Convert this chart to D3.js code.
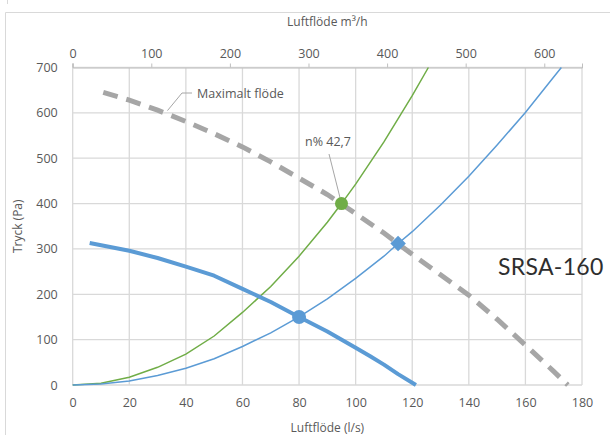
<!DOCTYPE html>
<html>
<head>
<meta charset="utf-8">
<script src="https://cdn.jsdelivr.net/npm/d3@7"></script>
<style>
  html, body { margin: 0; padding: 0; background: #fff; }
  svg { display: block; }
  text { font-family: "Open Sans", "Liberation Sans", sans-serif; }
</style>
</head>
<body>
<svg id="chart" width="610" height="435"></svg>
<script>
// ---- Data ----
const xTicks = [0, 20, 40, 60, 80, 100, 120, 140, 160, 180];
const yTicks = [0, 100, 200, 300, 400, 500, 600, 700];
const topTicks = [0, 100, 200, 300, 400, 500, 600];

// Fan curve (thick blue): airflow l/s, pressure Pa
const fanQ = [6, 20, 30, 40, 50, 60, 70, 80, 90, 100, 105, 110, 115, 121.3];
const fanP = [313, 296, 280, 261, 241, 212, 183, 150, 118, 82, 64, 45, 24, 0];

// System curve green
const greenQ = [0, 10, 20, 30, 40, 50, 60, 70, 80, 90, 95, 100, 110, 120, 125.7];
const greenP = [0, 4, 17, 39, 68, 108, 160, 217, 284, 359, 400, 443, 536, 638, 700];

// System curve blue (thin)
const blueQ = [0, 10, 20, 30, 40, 50, 60, 70, 80, 90, 100, 110, 115, 120, 130, 140, 150, 160, 170, 172.7];
const blueP = [0, 2, 9, 21, 37, 58, 85, 115, 150, 190, 235, 284, 312, 338, 397, 460, 529, 601, 679, 700];

// Maximum flow curve (dashed gray)
const maxQ = [10.8, 20, 30, 40, 50, 60, 70, 80, 90, 100, 110, 120, 130, 140, 150, 160, 170, 175];
const maxP = [645, 628, 606, 581, 554, 525, 492, 456, 420, 378, 335, 288, 243, 198, 145, 88, 30, 0];

// Markers
const greenPoint = [95, 400];
const bluePoint = [80, 150];
const diamondPoint = [115, 312];

const efficiencyLabel = "n% 42,7";
const maxLabel = "Maximalt flöde";
const modelLabel = "SRSA-160";

// ---- Layout ----
const svg = d3.select("#chart");
const pLeft = 72.7, pRight = 582, pTop = 67.5, pBottom = 385;
const x = d3.scaleLinear().domain([0, 180]).range([pLeft, pRight]);
const y = d3.scaleLinear().domain([0, 700]).range([pBottom, pTop]);
const xTop = d3.scaleLinear().domain([0, 180 * 3.6]).range([pLeft, pRight]);

const gridColor = "#d9d9d9";
const textColor = "#595959";

// outer chart frame
svg.append("path")
  .attr("d", "M5.5,440 V12.5 H615")
  .attr("fill", "none").attr("stroke", gridColor).attr("stroke-width", 1);
svg.append("line").attr("x1", 7.5).attr("x2", 7.5).attr("y1", 0).attr("y2", 4)
  .attr("stroke", gridColor);

// grid
const g = svg.append("g");
g.selectAll(".vg").data(xTicks).join("line")
  .attr("x1", d => x(d)).attr("x2", d => x(d))
  .attr("y1", pTop).attr("y2", pBottom)
  .attr("stroke", gridColor).attr("stroke-width", 1.3);
g.selectAll(".hg").data(yTicks).join("line")
  .attr("x1", pLeft).attr("x2", pRight)
  .attr("y1", d => y(d)).attr("y2", d => y(d))
  .attr("stroke", gridColor).attr("stroke-width", 1.3);

// bottom axis labels
const xAxis = d3.axisBottom(x).tickValues(xTicks).tickSize(0).tickPadding(13);
const gx = svg.append("g").attr("transform", `translate(0,${pBottom})`).call(xAxis);
gx.select(".domain").remove();
gx.selectAll("text").attr("fill", textColor).style("font-size", "12.5px")
  .style("font-family", "'Open Sans', sans-serif");

// left axis labels
const yAxis = d3.axisLeft(y).tickValues(yTicks).tickSize(0).tickPadding(15);
const gy = svg.append("g").attr("transform", `translate(${pLeft},0)`).call(yAxis);
gy.select(".domain").remove();
gy.selectAll("text").attr("fill", textColor).style("font-size", "12.5px")
  .style("font-family", "'Open Sans', sans-serif");

// top axis
const topAxis = d3.axisTop(xTop).tickValues(topTicks).tickSize(4).tickPadding(6);
const gt = svg.append("g").attr("transform", `translate(0,${pTop})`).call(topAxis);
gt.select(".domain").attr("stroke", "#bfbfbf");
gt.selectAll("line").attr("stroke", "#bfbfbf");
gt.selectAll("text").attr("fill", textColor).style("font-size", "12.5px")
  .style("font-family", "'Open Sans', sans-serif");
// left axis small tick at top
svg.append("line").attr("x1", pLeft).attr("x2", pLeft).attr("y1", pTop - 4).attr("y2", pTop)
  .attr("stroke", "#bfbfbf");

// axis titles
svg.append("text").attr("x", (pLeft + pRight) / 2).attr("y", 26)
  .attr("text-anchor", "middle").attr("fill", textColor).style("font-size", "12px")
  .text("Luftflöde m³/h");
svg.append("text").attr("x", (pLeft + pRight) / 2).attr("y", 432)
  .attr("text-anchor", "middle").attr("fill", textColor).style("font-size", "12px")
  .text("Luftflöde (l/s)");
svg.append("text").attr("transform", `translate(22,${(pTop + pBottom) / 2}) rotate(-90)`)
  .attr("text-anchor", "middle").attr("fill", textColor).style("font-size", "12px")
  .text("Tryck (Pa)");

const line = d3.line().x(d => x(d[0])).y(d => y(d[1]));
const zip = (a, b) => a.map((v, i) => [v, b[i]]);

// green system curve
svg.append("path").datum(zip(greenQ, greenP)).attr("d", line)
  .attr("fill", "none").attr("stroke", "#70ad47").attr("stroke-width", 1.5);
// blue system curve
svg.append("path").datum(zip(blueQ, blueP)).attr("d", line)
  .attr("fill", "none").attr("stroke", "#5b9bd5").attr("stroke-width", 1.5);
// fan curve
svg.append("path").datum(zip(fanQ, fanP)).attr("d", line)
  .attr("fill", "none").attr("stroke", "#5b9bd5").attr("stroke-width", 4)
  .attr("stroke-linejoin", "round");
// max flow dashed
svg.append("path").datum(zip(maxQ, maxP)).attr("d", line)
  .attr("fill", "none").attr("stroke", "#a6a6a6").attr("stroke-width", 5)
  .attr("stroke-dasharray", "15,9");

// leader lines
svg.append("path")
  .attr("d", `M192,93 H182 L${x(33.5)},${y(605)}`)
  .attr("fill", "none").attr("stroke", "#a6a6a6").attr("stroke-width", 1);
svg.append("line")
  .attr("x1", 329).attr("y1", 154).attr("x2", x(greenPoint[0])).attr("y2", y(greenPoint[1]))
  .attr("stroke", "#a6a6a6").attr("stroke-width", 1);

// markers
svg.append("circle").attr("cx", x(greenPoint[0])).attr("cy", y(greenPoint[1])).attr("r", 6.5)
  .attr("fill", "#70ad47");
svg.append("circle").attr("cx", x(bluePoint[0])).attr("cy", y(bluePoint[1])).attr("r", 7)
  .attr("fill", "#5b9bd5");
svg.append("path")
  .attr("transform", `translate(${x(diamondPoint[0])},${y(diamondPoint[1])}) rotate(45)`)
  .attr("d", "M-5.5,-5.5 H5.5 V5.5 H-5.5 Z").attr("fill", "#5b9bd5");

// labels
svg.append("text").attr("x", 197).attr("y", 98).attr("fill", textColor)
  .style("font-size", "12.5px").text(maxLabel);
svg.append("text").attr("x", 305).attr("y", 146).attr("fill", textColor)
  .style("font-size", "12.5px").text(efficiencyLabel);
svg.append("text").attr("x", 498).attr("y", 275).attr("fill", "#2e2e2e")
  .style("font-family", "Lato, 'Open Sans', sans-serif")
  .style("font-size", "23px").style("font-weight", 400).style("letter-spacing", "0.3px")
  .text(modelLabel);
</script>
</body>
</html>
